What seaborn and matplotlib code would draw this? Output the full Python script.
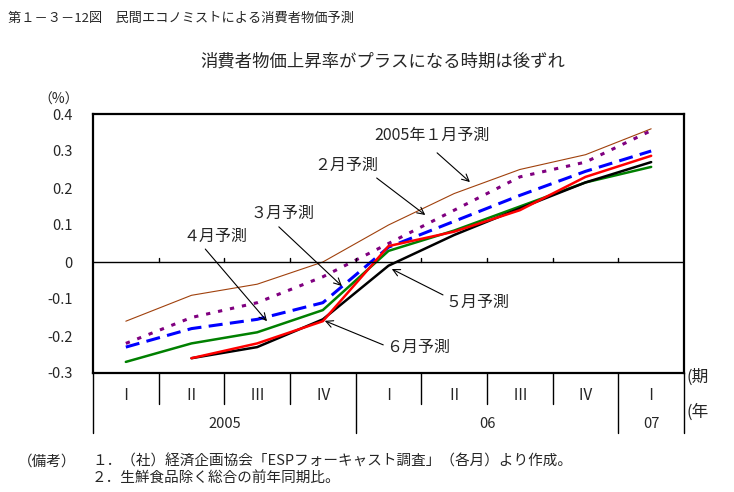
import matplotlib
matplotlib.use("Agg")
import matplotlib.pyplot as plt
import matplotlib.transforms as mtransforms
import numpy as np
import pandas as pd
import seaborn as sns

# データ
periods = list(range(9))
quarter_labels = ["Ⅰ", "Ⅱ", "Ⅲ", "Ⅳ", "Ⅰ", "Ⅱ", "Ⅲ", "Ⅳ", "Ⅰ"]
year_labels = ["2005", "06", "07"]
year_first = [0, 4, 8]
year_last = [3, 7, 8]

fc_jan = [-0.16, -0.09, -0.06, 0.00, 0.10, 0.185, 0.25, 0.29, 0.36]
fc_feb = [-0.22, -0.15, -0.11, -0.04, 0.05, 0.14, 0.23, 0.27, 0.355]
fc_mar = [-0.23, -0.18, -0.155, -0.11, 0.04, 0.11, 0.18, 0.245, 0.30]
fc_apr = [-0.27, -0.22, -0.19, -0.13, 0.03, 0.085, 0.15, 0.215, 0.257]
fc_may = [np.nan, -0.26, -0.23, -0.155, -0.01, 0.073, 0.145, 0.215, 0.27]
fc_jun = [np.nan, -0.26, -0.22, -0.16, 0.043, 0.082, 0.14, 0.23, 0.287]

series_names = ["2005年１月予測", "２月予測", "３月予測", "４月予測", "５月予測", "６月予測"]
series_values = [fc_jan, fc_feb, fc_mar, fc_apr, fc_may, fc_jun]

yticks = [-0.3, -0.2, -0.1, 0.0, 0.1, 0.2, 0.3, 0.4]
ytick_labels = ["-0.3", "-0.2", "-0.1", "0", "0.1", "0.2", "0.3", "0.4"]

df = pd.concat(
    [pd.DataFrame({"period": periods, "value": v, "series": n})
     for n, v in zip(series_names, series_values)],
    ignore_index=True,
)

palette = dict(zip(series_names, ["#a0410d", "#800080", "#0000ff", "#008000", "#000000", "#ff0000"]))
sizes = dict(zip(series_names, [0.8, 2.2, 2.2, 1.8, 1.8, 1.8]))
dashes = dict(zip(series_names, ["", (1.4, 2.6), (4.6, 2.4), "", "", ""]))

sns.set_style("white")
plt.rcParams["font.family"] = ["Noto Sans CJK JP", "DejaVu Sans"]

fig = plt.figure(figsize=(7.34, 4.92), dpi=100)
ax = fig.add_axes([93 / 734, 1 - 373 / 492, 591 / 734, 259 / 492])

sns.lineplot(data=df, x="period", y="value", hue="series", style="series",
             size="series", palette=palette, sizes=sizes, dashes=dashes,
             estimator=None, legend=False, ax=ax)

ax.set_xlim(-0.5, 8.5)
ax.set_ylim(-0.3, 0.4)
ax.set_xticks([])
ax.set_yticks(yticks)
ax.set_yticklabels(ytick_labels, fontsize=10.5)
ax.tick_params(axis="y", direction="inout", length=9, width=1, color="black", pad=10)
ax.set_xlabel("")
ax.set_ylabel("")
for sp in ax.spines.values():
    sp.set_color("black")
    sp.set_linewidth(1.6)

# ゼロ線と目盛り
ax.axhline(0, color="black", lw=1)
for b in np.arange(0.5, 8, 1):
    ax.plot([b, b], [0, 0.011], color="black", lw=1)

# 横軸の表
trans = mtransforms.blended_transform_factory(ax.transData, ax.transAxes)
row1 = -0.12
row2 = -0.232
for b in [0.5, 1.5, 2.5, 4.5, 5.5, 6.5]:
    ax.plot([b, b], [0, row1], color="black", lw=1, transform=trans, clip_on=False)
for b in [-0.5, 3.5, 7.5, 8.5]:
    ax.plot([b, b], [0, row2], color="black", lw=1, transform=trans, clip_on=False)
for p, q in zip(periods, quarter_labels):
    ax.text(p, -0.085, q, transform=trans, ha="center", va="center", fontsize=11)
for lab, a, b in zip(year_labels, year_first, year_last):
    ax.text((a + b) / 2, -0.197, lab, transform=trans, ha="center", va="center", fontsize=10.5)

# 注釈
arrow = dict(arrowstyle="->,head_length=0.5,head_width=0.25", color="black", lw=0.8,
             shrinkA=0, shrinkB=0)
notes = [
    ("2005年１月予測", (4.66, 0.343), (4.74, 0.295), (5.24, 0.216)),
    ("２月予測", (3.35, 0.262), (3.82, 0.227), (4.56, 0.127)),
    ("３月予測", (2.38, 0.132), (2.33, 0.095), (3.29, -0.065)),
    ("４月予測", (1.36, 0.068), (1.21, 0.035), (2.15, -0.16)),
    ("５月予測", (5.35, -0.108), (4.83, -0.089), (4.05, -0.019)),
    ("６月予測", (4.45, -0.232), (3.92, -0.224), (3.03, -0.159)),
]
for txt, tpos, a0, a1 in notes:
    ax.text(tpos[0], tpos[1], txt, ha="center", va="center", fontsize=11.5)
    ax.annotate("", xy=a1, xytext=a0, arrowprops=arrow)

# タイトル・注記
fig.text(8 / 734, 1 - 18 / 492, "第１－３－12図　民間エコノミストによる消費者物価予測",
         ha="left", va="center", fontsize=9.5)
fig.text(383 / 734, 1 - 62 / 492, "消費者物価上昇率がプラスになる時期は後ずれ",
         ha="center", va="center", fontsize=12.5)
fig.text(38 / 734, 1 - 100 / 492, "（%）", ha="left", va="center", fontsize=10)
fig.text(686 / 734, 1 - 377 / 492, "(期", ha="left", va="center", fontsize=12)
fig.text(686 / 734, 1 - 412 / 492, "(年", ha="left", va="center", fontsize=12)
fig.text(18 / 734, 1 - 462 / 492, "（備考）", ha="left", va="center", fontsize=10.5)
fig.text(92 / 734, 1 - 462 / 492, "１．（社）経済企画協会「ESPフォーキャスト調査」（各月）より作成。",
         ha="left", va="center", fontsize=10.5)
fig.text(92 / 734, 1 - 478 / 492, "２．生鮮食品除く総合の前年同期比。",
         ha="left", va="center", fontsize=10.5)

fig.savefig("out.png", dpi=100)
